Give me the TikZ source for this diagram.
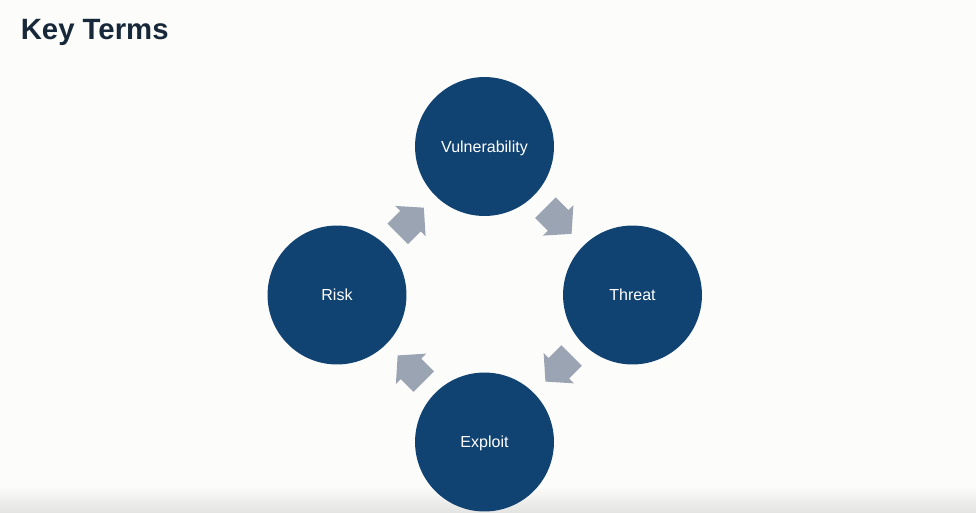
\documentclass[tikz,border=0pt]{standalone}
\usepackage{fontspec}
\setmainfont{Liberation Sans}
\usetikzlibrary{calc}
\definecolor{bgc}{HTML}{FCFCFA}
\definecolor{navy}{HTML}{114372}
\definecolor{arrowgray}{HTML}{9BA4B2}
\definecolor{titlec}{HTML}{17283A}
\definecolor{bottomgray}{HTML}{E4E4E3}
\tikzset{
  term/.style={circle, fill=navy, draw=none, inner sep=0pt, minimum size=104.2pt,
    text=white, font=\fontsize{12}{14}\selectfont, text height=8.6pt, text depth=0pt},
  blockarrow/.style={fill=arrowgray, draw=none}
}
\newcommand{\blockarrowpath}{%
  \fill[blockarrow] (-18.5,-14.5) -- (-0.5,-14.5) -- (-0.5,-21.5) -- (18.5,0)
    -- (-0.5,21.5) -- (-0.5,14.5) -- (-18.5,14.5) -- cycle;}
\begin{document}
\begin{tikzpicture}[x=0.75pt, y=-0.75pt]
  \useasboundingbox (0,0) rectangle (976,512);
  \fill[bgc] (0,0) rectangle (976,512);
  \shade[top color=bgc, bottom color=bottomgray] (0,486) rectangle (976,512);
  \node[anchor=base west, inner sep=0pt, text=titlec,
    font=\fontsize{22}{24}\selectfont\bfseries] (title) at (20.5,39.5) {Key Terms};
  \node[term] (vul) at (484.5,146.5) {Vulnerability};
  \node[term] (thr) at (632.5,295) {Threat};
  \node[term] (exp) at (484.5,442) {Exploit};
  \node[term] (risk) at (337,295) {Risk};
  \begin{scope}[shift={($(risk)!0.5!(vul)$)}, rotate=45]\blockarrowpath\end{scope}
  \begin{scope}[shift={($(vul)!0.5!(thr)$)}, rotate=-45]\blockarrowpath\end{scope}
  \begin{scope}[shift={($(thr)!0.5!(exp)$)}, rotate=-135]\blockarrowpath\end{scope}
  \begin{scope}[shift={($(exp)!0.5!(risk)$)}, rotate=135]\blockarrowpath\end{scope}
\end{tikzpicture}
\end{document}
